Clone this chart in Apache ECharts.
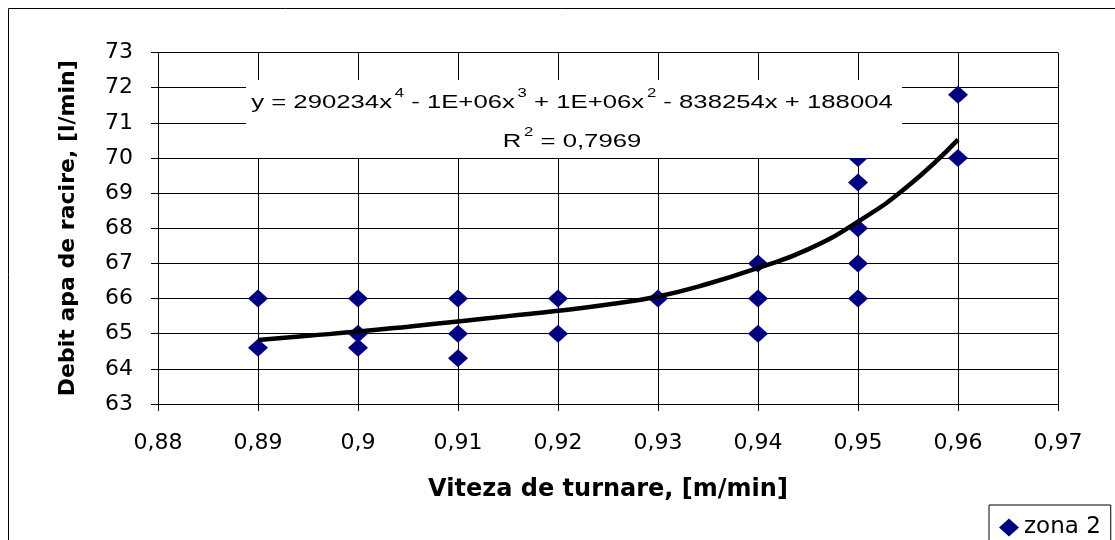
<!DOCTYPE html>
<html>
<head>
<meta charset="utf-8">
<script src="https://cdn.jsdelivr.net/npm/echarts@6/dist/echarts.min.js"></script>
<style>
  html, body { margin: 0; padding: 0; background: #fff; }
  #chart { width: 1115px; height: 540px; }
</style>
</head>
<body>
<div id="chart"></div>
<script>
// measured points, zona 2
var vitezaX = [0.89, 0.89, 0.90, 0.90, 0.90, 0.91, 0.91, 0.91, 0.92, 0.92, 0.93,
               0.94, 0.94, 0.94, 0.95, 0.95, 0.95, 0.95, 0.95, 0.96, 0.96];
var debitY  = [66, 64.6, 66, 65, 64.6, 66, 65, 64.3, 66, 65, 66,
               67, 66, 65, 70, 69.3, 68, 67, 66, 71.8, 70];

// polynomial trendline
var trendX = [0.89, 0.895, 0.90, 0.905, 0.91, 0.915, 0.92, 0.925, 0.93, 0.935, 0.94, 0.945, 0.95, 0.955, 0.96];
var trendY = [64.82, 64.94, 65.06, 65.2, 65.35, 65.5, 65.65, 65.83, 66.06, 66.42, 66.87, 67.4, 68.19, 69.2, 70.52];

var arial = '"Liberation Sans", Arial, sans-serif';
var wide = '"DejaVu Sans", "Liberation Sans", sans-serif';

var chart = echarts.init(document.getElementById('chart'), null, {renderer: 'canvas'});

var pts = vitezaX.map(function (x, i) { return [x, debitY[i]]; });
var trend = trendX.map(function (x, i) { return [x, trendY[i]]; });

var eqRich = {
    n: { fontFamily: arial, fontSize: 18.5, fill: '#000', verticalAlign: 'bottom', lineHeight: 24 },
    s: { fontFamily: arial, fontSize: 12, fill: '#000', verticalAlign: 'top', lineHeight: 24, padding: [0, 0, 11, 2] }
};

chart.setOption({
    animation: false,
    backgroundColor: '#fff',
    grid: { left: 158, right: 57, top: 52.5, bottom: 136 },
    xAxis: {
        type: 'value', min: 0.88, max: 0.97, interval: 0.01,
        name: 'Viteza de turnare, [m/min]',
        nameLocation: 'middle', nameGap: 74,
        nameTextStyle: { fontFamily: wide, fontSize: 24, fontWeight: 'bold', color: '#000' },
        axisLine: { lineStyle: { color: '#000', width: 1 } },
        axisTick: { show: true, length: 7, lineStyle: { color: '#000' } },
        axisLabel: {
            fontFamily: wide, fontSize: 22, color: '#000', margin: 28,
            formatter: function (v) { return String(+v.toFixed(2)).replace('.', ','); }
        },
        splitLine: { show: true, lineStyle: { color: '#000', width: 1 } }
    },
    yAxis: {
        type: 'value', min: 63, max: 73, interval: 1,
        name: 'Debit apa de racire, [l/min]',
        nameLocation: 'middle', nameGap: 79,
        nameTextStyle: { fontFamily: wide, fontSize: 22, fontWeight: 'bold', color: '#000' },
        axisLine: { show: true, lineStyle: { color: '#000', width: 1 } },
        axisTick: { show: true, length: 7, lineStyle: { color: '#000' } },
        axisLabel: { fontFamily: wide, fontSize: 22, color: '#000', margin: 25 },
        splitLine: { show: true, lineStyle: { color: '#000', width: 1 } }
    },
    legend: {
        left: 989, top: 505,
        data: [{ name: 'zona 2', icon: 'diamond' }],
        itemWidth: 20, itemHeight: 18, itemGap: 8,
        padding: [11, 10, 10, 10],
        borderColor: '#000', borderWidth: 1, borderRadius: 0,
        backgroundColor: '#fff',
        textStyle: { fontFamily: wide, fontSize: 23, color: '#000' }
    },
    graphic: [
        {
            type: 'rect', z: 0, silent: true,
            shape: { x: 8.5, y: 8.5, width: 1200, height: 600 },
            style: { fill: 'none', stroke: '#000', lineWidth: 1 }
        },
        {
            type: 'rect', z: 100, silent: true,
            shape: { x: 246, y: 80, width: 656, height: 78 },
            style: { fill: '#fff', stroke: 'none' }
        },
        {
            type: 'text', z: 101, silent: true,
            x: 572, y: 100, scaleX: 1.39,
            style: {
                text: '{n|y = 290234x}{s|4}{n| - 1E+06x}{s|3}{n| + 1E+06x}{s|2}{n| - 838254x + 188004}',
                align: 'center', verticalAlign: 'middle',
                rich: eqRich
            }
        },
        {
            type: 'text', z: 101, silent: true,
            x: 572, y: 139, scaleX: 1.39,
            style: {
                text: '{n|R}{s|2}{n| = 0,7969}',
                align: 'center', verticalAlign: 'middle',
                rich: eqRich
            }
        }
    ],
    series: [
        {
            name: 'zona 2',
            type: 'scatter',
            data: pts,
            symbol: 'diamond',
            symbolSize: [20, 18],
            itemStyle: { color: '#000080', opacity: 1 },
            z: 2
        },
        {
            name: 'trend',
            type: 'line',
            data: trend,
            smooth: true,
            showSymbol: false,
            lineStyle: { color: '#000', width: 4.5 },
            z: 3
        }
    ]
});
</script>
</body>
</html>
